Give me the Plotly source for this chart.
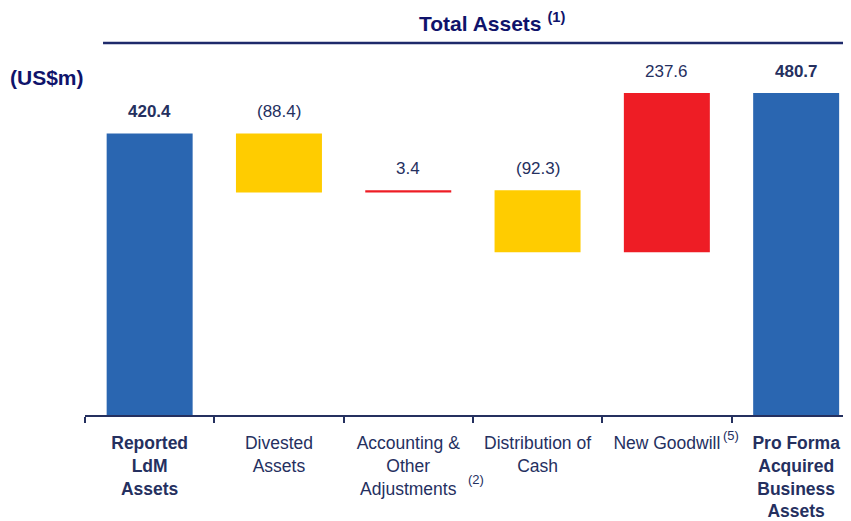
import plotly.graph_objects as go

# categories and values (US$m)
categories = ['Reported LdM Assets', 'Divested Assets', 'Accounting & Other Adjustments',
              'Distribution of Cash', 'New Goodwill', 'Pro Forma Acquired Business Assets']
tick_labels = ['<b>Reported<br>LdM<br>Assets</b>', 'Divested<br>Assets',
               'Accounting &<br>Other<br>Adjustments', 'Distribution of<br>Cash',
               'New Goodwill', '<b>Pro Forma<br>Acquired<br>Business<br>Assets</b>']
values = [420.4, -88.4, 3.4, -92.3, 237.6, 480.7]
measures = ['absolute', 'relative', 'relative', 'relative', 'relative', 'total']
value_labels = ['<b>420.4</b>', '(88.4)', '3.4', '(92.3)', '237.6', '<b>480.7</b>']

navy = '#25305F'
font_name = 'Liberation Sans, Arial, sans-serif'

fig = go.Figure(go.Waterfall(
    x=categories, y=values, measure=measures,
    width=0.665,
    increasing=dict(marker=dict(color='#EE1D25')),
    decreasing=dict(marker=dict(color='#FFCC00')),
    totals=dict(marker=dict(color='#2A66B1')),
    connector=dict(visible=False),
    textposition='none',
    hoverinfo='skip',
))

# value labels above the top of each bar
running = 0
for cat, val, m, lab in zip(categories, values, measures, value_labels):
    if m == 'relative':
        top = max(running, running + val)
        running += val
    else:
        top = val
        running = val
    fig.add_annotation(x=cat, y=top, text=lab, showarrow=False, yanchor='bottom',
                       yshift=10, font=dict(size=17, color=navy, family=font_name))

# footnote markers
fig.add_annotation(x=categories[2], xref='x', y=-0.183, yref='paper', text='(2)',
                   showarrow=False, xshift=68, yanchor='middle',
                   font=dict(size=13, color=navy, family=font_name))
fig.add_annotation(x=categories[4], xref='x', y=-0.059, yref='paper', text='(5)',
                   showarrow=False, xshift=64, yanchor='middle',
                   font=dict(size=13, color=navy, family=font_name))

# title and unit
fig.add_annotation(x=0.526, y=1.107, xref='paper', yref='paper', showarrow=False,
                   yanchor='middle',
                   text='<b>Total Assets</b> <b><sup>(1)</sup></b>',
                   font=dict(size=21, color='#0F136B', family=font_name))
fig.add_annotation(x=-0.099, y=0.952, xref='paper', yref='paper', showarrow=False,
                   xanchor='left', yanchor='middle',
                   text='<b>(US$m)</b>', font=dict(size=21, color='#0F136B', family=font_name))
fig.add_shape(type='line', xref='paper', yref='paper', x0=0.0233, x1=1, y0=1.048, y1=1.048,
              line=dict(color='#1E2A6B', width=2.5))

fig.update_layout(
    width=851, height=521,
    margin=dict(l=77, r=0, t=52, b=114),
    plot_bgcolor='white', paper_bgcolor='white',
    showlegend=False,
    font=dict(family=font_name, color=navy, size=17),
    xaxis=dict(
        type='category', range=[-0.5, 5.486],
        tickmode='array', tickvals=categories, ticktext=tick_labels,
        tickson='boundaries', ticks='outside', ticklen=6, tickwidth=2, tickcolor=navy,
        showline=True, linecolor=navy, linewidth=2, showgrid=False, zeroline=False,
        tickfont=dict(size=17.5, color=navy, family=font_name), ticklabelstandoff=11,
    ),
    yaxis=dict(range=[0, 530], visible=False, showgrid=False, zeroline=False),
)

fig.write_html('out.html')
